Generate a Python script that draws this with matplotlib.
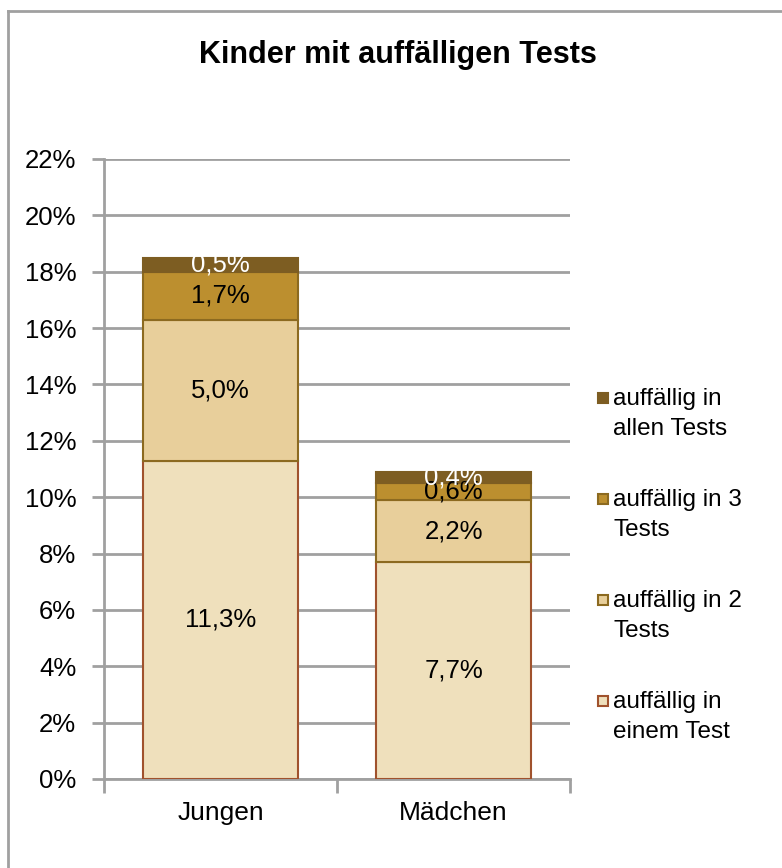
import matplotlib.pyplot as plt
from matplotlib.lines import Line2D
from matplotlib.patches import Rectangle

plt.rcParams['font.family'] = ['Liberation Sans', 'DejaVu Sans']

categories = ["Jungen", "Mädchen"]
series_names = ["auffällig in\neinem Test", "auffällig in 2\nTests",
                "auffällig in 3\nTests", "auffällig in\nallen Tests"]
values = [
    [11.3, 7.7],
    [5.0, 2.2],
    [1.7, 0.6],
    [0.5, 0.4],
]
labels = [
    ["11,3%", "7,7%"],
    ["5,0%", "2,2%"],
    ["1,7%", "0,6%"],
    ["0,5%", "0,4%"],
]
face_colors = ["#EFE0BC", "#E8CF9B", "#BC8F2F", "#7D5D22"]
edge_colors = ["#A0522D", "#8C6A20", "#8C6A20", "#7D5D22"]
text_colors = ["black", "black", "black", "white"]

fig = plt.figure(figsize=(7.82, 8.68), dpi=100)
ax = fig.add_axes([104 / 782, 89 / 868, 466 / 782, 620 / 868])

x = range(len(categories))
bottoms = [0] * len(categories)
for i, vals in enumerate(values):
    ax.bar(x, vals, width=0.665, bottom=bottoms, color=face_colors[i],
           edgecolor=edge_colors[i], linewidth=1.5, zorder=3)
    for j, v in enumerate(vals):
        ax.text(j, bottoms[j] + v / 2, labels[i][j], ha="center", va="center",
                fontsize=18.5, color=text_colors[i], zorder=4)
    bottoms = [b + v for b, v in zip(bottoms, vals)]

ax.set_xlim(-0.5, 1.5)
ax.set_ylim(0, 22)
yt = list(range(0, 23, 2))
ax.set_yticks(yt)
ax.set_yticklabels([f"{t}%" for t in yt], fontsize=18.5)
ax.set_xticks([0, 1])
ax.set_xticklabels(categories, fontsize=19)
ax.set_xticks([-0.5, 0.5, 1.5], minor=True)
ax.tick_params(axis="x", which="major", length=0, pad=16)
ax.tick_params(axis="x", which="minor", length=10, width=2, color="#A0A0A0")
ax.tick_params(axis="y", length=9, width=2, color="#A0A0A0", pad=11)
ax.yaxis.grid(True, color="#A0A0A0", linewidth=2, zorder=0)
ax.set_axisbelow(True)
for s in ["top", "right"]:
    ax.spines[s].set_visible(False)
for s in ["left", "bottom"]:
    ax.spines[s].set_color("#A0A0A0")
    ax.spines[s].set_linewidth(2)

fig.text(398 / 782, 1 - 55 / 868, "Kinder mit auffälligen Tests", ha="center",
         va="center", fontsize=22, fontweight="bold")

# legend, drawn by hand so the swatch sits on the first text line
leg_top = 398
leg_step = 101
for k, i in enumerate(reversed(range(len(series_names)))):
    yc = leg_top + k * leg_step
    fig.add_artist(Rectangle((598 / 782, 1 - (yc + 5) / 868), 10 / 782, 10 / 868,
                             facecolor=face_colors[i], edgecolor=edge_colors[i],
                             linewidth=1.5, transform=fig.transFigure))
    fig.text(613 / 782, 1 - (yc - 10) / 868, series_names[i], ha="left", va="top",
             fontsize=17.5, linespacing=1.45)

# outer frame (left and top edges visible)
fig.add_artist(Line2D([8 / 782, 8 / 782], [0, 1 - 11 / 868], color="#A0A0A0",
                      linewidth=2, transform=fig.transFigure))
fig.add_artist(Line2D([8 / 782, 1], [1 - 11 / 868, 1 - 11 / 868], color="#A0A0A0",
                      linewidth=2, transform=fig.transFigure))

fig.savefig("out.png", dpi=100)
